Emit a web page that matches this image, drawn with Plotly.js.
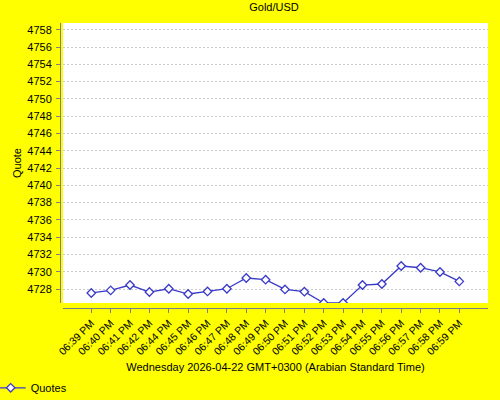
<!DOCTYPE html>
<html>
<head>
<meta charset="utf-8">
<script src="https://cdn.plot.ly/plotly-3.0.1.min.js"></script>
<style>html,body{margin:0;padding:0;background:#ffff00;}#chart{width:500px;height:400px;}</style>
</head>
<body>
<div id="chart"></div>
<script>
const times = ["06:39 PM","06:40 PM","06:41 PM","06:42 PM","06:44 PM","06:45 PM","06:46 PM","06:47 PM","06:48 PM","06:49 PM","06:50 PM","06:51 PM","06:52 PM","06:53 PM","06:54 PM","06:55 PM","06:56 PM","06:57 PM","06:58 PM","06:59 PM"];
const quotes = [4727.54,4727.84,4728.46,4727.65,4728.03,4727.42,4727.72,4728.03,4729.27,4729.08,4727.95,4727.69,4726.38,4726.38,4728.46,4728.58,4730.66,4730.46,4729.97,4728.88];
const yTicks = [4728,4730,4732,4734,4736,4738,4740,4742,4744,4746,4748,4750,4752,4754,4756,4758];
const seriesName = "Quotes";
const chartTitle = "Gold/USD";
const xTitle = "Wednesday 2026-04-22 GMT+0300 (Arabian Standard Time)";
const yTitle = "Quote";

const font = {family: "Liberation Sans, Arial, sans-serif", size: 11, color: "#000"};
const blue = "#3a3ac8";

const trace = {
  type: "scatter", mode: "lines+markers", name: seriesName,
  x: times, y: quotes,
  line: {color: blue, width: 1.3},
  marker: {symbol: "diamond", size: 6.5, color: "#ffffff", line: {color: blue, width: 1.3}},
  cliponaxis: true
};

const layout = {
  width: 500, height: 400,
  paper_bgcolor: "#ffff00", plot_bgcolor: "#ffff00",
  margin: {l: 60, r: 12, t: 23, b: 92, autoexpand: false},
  font: font,
  title: {text: chartTitle, font: {family: font.family, size: 11, color: "#000"}, x: 0.5, xref: "paper", xanchor: "center", y: 0.982, yref: "container", yanchor: "middle"},
  showlegend: true,
  legend: {x: -0.162, xanchor: "left", y: -0.28, yanchor: "middle", orientation: "h", bgcolor: "rgba(0,0,0,0)", font: font, itemwidth: 30},
  xaxis: {
    type: "category", domain: [3/428, 1], anchor: "free", position: 0,
    range: [-1.46, 20.48], automargin: false,
    showline: true, linecolor: "#808080", linewidth: 1,
    ticks: "outside", ticklen: 4, tickcolor: "#808080",
    tickangle: -45, tickfont: {family: font.family, size: 10.5, color: "#000"},
    showgrid: false, zeroline: false,
    title: {text: xTitle, font: font, standoff: 7}
  },
  yaxis: {
    domain: [5/285, 1], anchor: "free", position: 0,
    range: [4726.38, 4758.78], automargin: false,
    tickvals: yTicks, ticktext: yTicks.map(String),
    showline: true, linecolor: "#808080", linewidth: 1,
    ticks: "outside", ticklen: 4, tickcolor: "#808080",
    tickfont: font, ticklabelstandoff: 2,
    showgrid: true, gridcolor: "#cccccc", gridwidth: 1, griddash: "2px,2px",
    zeroline: false,
    title: {text: yTitle, font: font, standoff: 2}
  },
  shapes: [{type: "rect", xref: "x domain", yref: "y domain", x0: 0, x1: 1, y0: 0, y1: 1, fillcolor: "#ffffff", line: {width: 0}, layer: "below"}]
};

Plotly.newPlot("chart", [trace], layout, {staticPlot: true, displayModeBar: false});
</script>
</body>
</html>
